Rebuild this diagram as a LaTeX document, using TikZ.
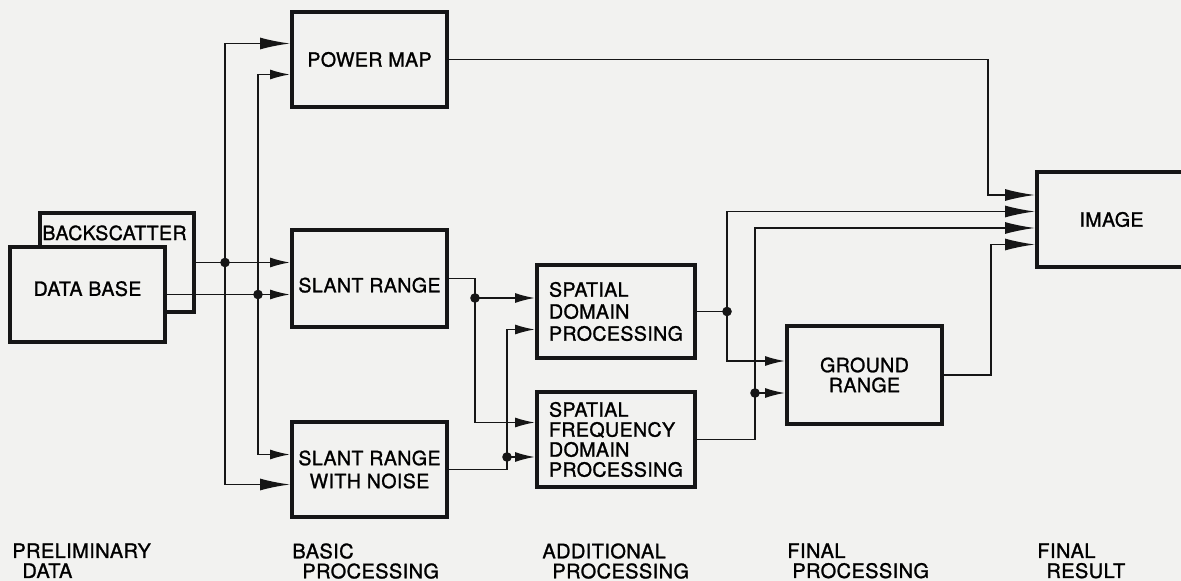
\documentclass[tikz,border=0pt]{standalone}
\usepackage{fontspec}
\setmainfont[FakeBold=1.2,LetterSpace=2]{TeX Gyre Heros}
\usepackage{tikz}
\usetikzlibrary{arrows.meta}
\definecolor{paper}{RGB}{242,242,240}
\definecolor{ink}{RGB}{22,22,22}

\begin{document}
\begin{tikzpicture}[x=0.5pt,y=-0.5pt,font=\fontsize{9.8}{11}\selectfont,
    blk/.style={draw=ink,line width=2pt,fill=paper,inner sep=0pt,
                minimum width=77.5pt,minimum height=47.5pt},
    wire/.style={draw=ink,line width=0.8pt},
    feed/.style={wire,-{Latex[length=10pt,width=5pt]}},
    longfeed/.style={wire,-{Latex[length=15pt,width=6pt]}},
    stage/.style={anchor=north west,inner sep=0pt,align=left,
                  font=\fontsize{10}{10}\selectfont}]
    \path[use as bounding box,fill=paper] (0,0) rectangle (1181,581);

    % preliminary data
    \node[blk,minimum width=77pt,minimum height=49.5pt,
          label={[anchor=north west,inner sep=0pt,xshift=2pt,yshift=-7pt]north west:BACKSCATTER}]
          (bs) at (117,262.5) {};
    \node[blk,text depth=6pt] (db) at (87.5,294.5) {DATA BASE};

    % basic processing
    \node[blk] (pm) at (369.5,59.5) {POWER MAP};
    \node[blk,minimum height=48.5pt,text height=14pt] (sr) at (369.5,278.5) {SLANT RANGE};
    \node[blk,align=center,font=\fontsize{9.8}{11.5}\selectfont] (srn) at (369.5,469.5) {SLANT RANGE\\WITH NOISE};

    % additional processing
    \node[blk,minimum width=79pt,minimum height=46.5pt,align=left] (sd) at (616,311.5)
          {SPATIAL\\DOMAIN\\PROCESSING};
    \node[blk,minimum width=79pt,align=left,font=\fontsize{9.8}{10}\selectfont] (sf) at (616,439.5)
          {SPATIAL\\FREQUENCY\\DOMAIN\\PROCESSING};

    % final processing and result
    \node[blk,minimum height=49pt,align=center,font=\fontsize{9.8}{10}\selectfont] (gr) at (864.5,375)
          {GROUND\\RANGE};
    \node[blk,minimum width=74.5pt] (img) at (1111.5,219.5) {IMAGE};

    % branch points
    \coordinate (jA) at (225,262.5);
    \coordinate (jB) at (258,294.5);
    \coordinate (jC) at (475,298);
    \coordinate (jD) at (507,457);
    \coordinate (jE) at (727,311.5);
    \coordinate (jF) at (755,393);
    \coordinate (pmBend) at (988,195);
    \coordinate (grBend) at (991,244.5);

    % into the basic stage
    \draw[feed] (bs.east) -- (sr.west |- jA);
    \draw[feed] (db.east) -- (sr.west |- jB);
    \draw[longfeed] (jA) |- ([yshift=8pt]pm.west);
    \draw[feed] (jB) |- ([yshift=-7.5pt]pm.west);
    \draw[feed] (jB) |- ([yshift=7.5pt]srn.west);
    \draw[longfeed] (jA) |- ([yshift=-7.5pt]srn.west);

    % into the additional stage
    \draw[wire] (sr.east) -| (jC);
    \draw[feed] (jC) -- (sd.west |- jC);
    \draw[feed] (jC) |- ([yshift=8.5pt]sf.west);
    \draw[wire] (srn.east) -| (jD);
    \draw[feed] (jD) -- (sf.west |- jD);
    \draw[feed] (jD) |- ([yshift=-9pt]sd.west);

    % into ground range and image
    \draw[wire] (sd.east) -- (jE);
    \draw[feed] (jE) |- ([yshift=7pt]gr.west);
    \draw[longfeed] (jE) |- ([yshift=4pt]img.west);
    \draw[wire] (sf.east) -| (jF);
    \draw[feed] (jF) -- (gr.west |- jF);
    \draw[longfeed] (jF) |- ([yshift=-4.25pt]img.west);
    \draw[longfeed] (pm.east) -| (pmBend) -- (img.west |- pmBend);
    \draw[longfeed] (gr.east) -| (grBend) -- (img.west |- grBend);

    \foreach \j in {jA,jB,jC,jD,jE,jF}
        \fill[ink] (\j) circle (2.4pt);

    % stage captions
    \node[stage] (cap1) at (12,543) {PRELIMINARY\\\hspace*{5pt}DATA};
    \node[stage] (cap2) at (292,543) {BASIC\\\hspace*{5pt}PROCESSING};
    \node[stage] (cap3) at (542,543) {ADDITIONAL\\\hspace*{5pt}PROCESSING};
    \node[stage] (cap4) at (787,543) {FINAL\\\hspace*{2.5pt}PROCESSING};
    \node[stage] (cap5) at (1037,543) {FINAL\\\hspace*{4.5pt}RESULT};
\end{tikzpicture}
\end{document}
